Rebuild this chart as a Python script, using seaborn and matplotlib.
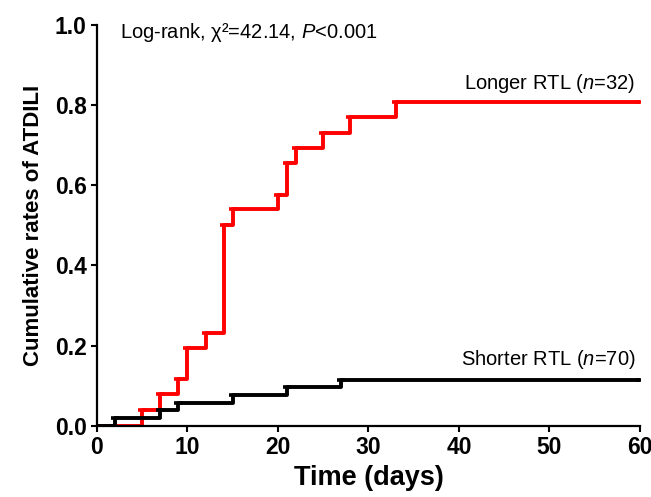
import pandas as pd
import matplotlib
matplotlib.use("Agg")
import matplotlib.pyplot as plt
import seaborn as sns

# step times (days) and cumulative rates
longer_days = [0, 5, 7, 9, 10, 12, 14, 15, 20, 21, 22, 25, 28, 33, 60]
longer_rate = [0, 0.04, 0.079, 0.116, 0.195, 0.232, 0.502, 0.54, 0.577,
               0.656, 0.693, 0.731, 0.77, 0.807, 0.807]
shorter_days = [0, 2, 7, 9, 15, 21, 27, 60]
shorter_rate = [0, 0.019, 0.039, 0.058, 0.077, 0.097, 0.115, 0.115]

x_ticks = [0, 10, 20, 30, 40, 50, 60]
y_ticks = [0.0, 0.2, 0.4, 0.6, 0.8, 1.0]

df = pd.concat([
    pd.DataFrame({'days': longer_days, 'rate': longer_rate, 'group': 'Longer'}),
    pd.DataFrame({'days': shorter_days, 'rate': shorter_rate, 'group': 'Shorter'}),
])
colors = {'Longer': '#ff0000', 'Shorter': '#000000'}

sns.set_style("ticks")
plt.rcParams['font.family'] = ['Liberation Sans', 'DejaVu Sans']
plt.rcParams['mathtext.fontset'] = 'custom'
plt.rcParams['mathtext.rm'] = 'Liberation Sans'
plt.rcParams['mathtext.it'] = 'Liberation Sans:italic'
for key in ['text.color', 'axes.labelcolor', 'xtick.color', 'ytick.color']:
    plt.rcParams[key] = 'black'

fig = plt.figure(figsize=(6.51, 4.97), dpi=100)
ax = fig.add_axes([0.149, 0.143, 0.834, 0.807])

for g in ['Longer', 'Shorter']:
    sub = df[df['group'] == g]
    sns.lineplot(data=sub, x='days', y='rate', color=colors[g], ax=ax,
                 drawstyle='steps-post', linewidth=2.8, estimator=None,
                 sort=False, legend=False)
    sns.scatterplot(data=sub.iloc[1:], x='days', y='rate', color=colors[g],
                    marker='_', s=30, linewidth=2.6, ax=ax, legend=False,
                    zorder=3)

ax.set_xlim(0, 60)
ax.set_ylim(0, 1.0)
ax.set_xticks(x_ticks)
ax.set_yticks(y_ticks)
ax.set_yticklabels([f'{v:.1f}' for v in y_ticks])
ax.tick_params(axis='both', width=1.5, length=4.5, labelsize=16.5, pad=3,
               color='black')
for lab in ax.get_xticklabels() + ax.get_yticklabels():
    lab.set_fontweight('bold')
for s in ['left', 'bottom']:
    ax.spines[s].set_linewidth(1.6)
    ax.spines[s].set_color('black')
sns.despine(ax=ax)

ax.set_xlabel('Time (days)', fontsize=19.5, fontweight='bold', labelpad=4)
ax.set_ylabel('Cumulative rates of ATDILI', fontsize=16, fontweight='bold',
              labelpad=8)

ax.text(2.5, 0.98, 'Log-rank, χ²=42.14, $\\mathit{P}$<0.001',
        fontsize=14.5, va='center', ha='left')
ax.text(59.5, 0.855, 'Longer RTL ($\\mathit{n}$=32)', fontsize=14.5,
        va='center', ha='right')
ax.text(59.5, 0.165, 'Shorter RTL ($\\mathit{n}$=70)', fontsize=14.5,
        va='center', ha='right')

fig.savefig('out.png', dpi=100)
